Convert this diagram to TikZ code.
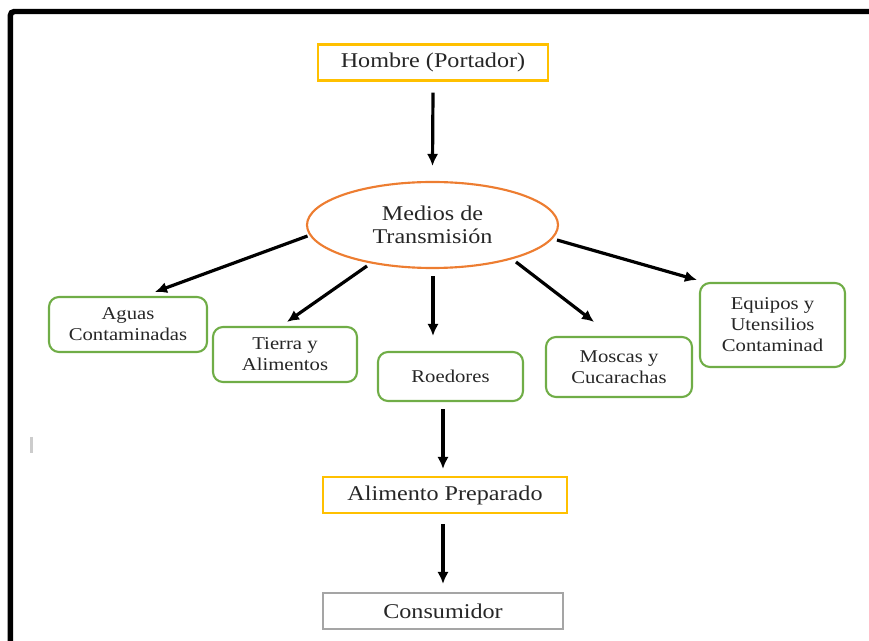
\documentclass[tikz,border=0pt]{standalone}
\usepackage{fontspec}
\setmainfont{Liberation Serif}[FakeStretch=1.15]
\usetikzlibrary{shapes.geometric,arrows.meta,calc}

\definecolor{boxyellow}{HTML}{FFC000}
\definecolor{ellorange}{HTML}{ED7D31}
\definecolor{boxgreen}{HTML}{70AD47}
\definecolor{boxgray}{HTML}{A5A5A5}
\definecolor{txt}{HTML}{262626}

\tikzset{
  bigtext/.style={font=\fontsize{15.75pt}{17.6pt}\selectfont, text=txt, align=center, inner sep=0pt},
  smalltext/.style={font=\fontsize{13.5pt}{15.75pt}\selectfont, text=txt, align=center, inner sep=0pt},
  plainbox/.style={bigtext, draw, line width=1.6pt, rectangle},
  agentbox/.style={smalltext, draw=boxgreen, line width=1.6pt, rectangle, rounded corners=7.5pt},
  flow/.style={line width=2.4pt, -{Latex[length=9pt,width=8.5pt]}},
}

\begin{document}
\begin{tikzpicture}[x=0.75pt,y=-0.75pt]
\useasboundingbox (0,0) rectangle (869,641);
\begin{scope}
  \clip (0,0) rectangle (869,641);
  % outer frame, running past the right and bottom edges
  \draw[line width=4.1pt, rounded corners=3pt] (10.3,11.5) rectangle (900,700);
\end{scope}

% faint mark on the left
\draw[line width=2pt, color=black!20] (31.5,437) -- (31.5,453);

% nodes
\node[plainbox, draw=boxyellow, minimum width=172.5pt, minimum height=27pt] (hombre) at (433,62.5) {Hombre (Portador)};
\node[bigtext, ellipse, draw=ellorange, line width=1.6pt, minimum width=188.25pt, minimum height=64.5pt] (ell) at (432.5,225) {Medios de\\Transmisión};

\node[agentbox, minimum width=118.5pt, minimum height=41.25pt] (aguas) at (128,324.5) {Aguas\\Contaminadas};
\node[agentbox, minimum width=108pt, minimum height=41.25pt] (tierra) at (285,354.5) {Tierra y\\Alimentos};
\node[agentbox, minimum width=108.75pt, minimum height=36.75pt] (roed) at (450.5,376.5) {Roedores};
\node[agentbox, minimum width=109.5pt, minimum height=45pt] (moscas) at (619,367) {Moscas y\\Cucarachas};
\node[agentbox, minimum width=108.75pt, minimum height=63pt] (equipos) at (772.5,325) {Equipos y\\Utensilios\\Contaminad};

\node[plainbox, draw=boxyellow, minimum width=183pt, minimum height=27pt] (alim) at (445,495) {Alimento Preparado};
\node[plainbox, draw=boxgray, minimum width=180pt, minimum height=27pt] (cons) at (443,611) {Consumidor};

% connectors
\draw[flow] ($(hombre.south)+(0,11)$) -- ($(ell.north)+(0,-15)$);
\draw[flow] ($(ell.center)+(-125,11)$) -- ($(aguas.north)+(27,-4)$);
\draw[flow] ($(ell.center)+(-65.5,41)$) -- ($(tierra.north)+(2,-4)$);
\draw[flow] ($(ell.south)+(0.5,7)$) -- ($(roed.north)+(-17.5,-15)$);
\draw[flow] ($(ell.center)+(83.5,37)$) -- ($(moscas.north)+(-25,-14)$);
\draw[flow] ($(ell.center)+(124.5,15)$) -- ($(equipos.north west)+(-2,-2)$);
\draw[flow] ($(roed.south)+(-7.5,7)$) -- ($(alim.north)+(-2,-7)$);
\draw[flow] ($(alim.south)+(-2,10)$) -- ($(cons.north)+(0,-8)$);
\end{tikzpicture}
\end{document}
